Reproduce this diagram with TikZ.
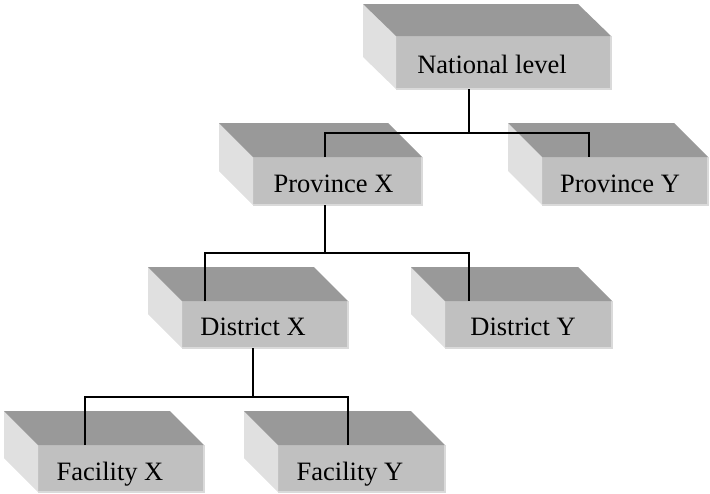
\documentclass[tikz,border=0pt]{standalone}
\usepackage{fontspec}
\setmainfont{Liberation Serif}
\usetikzlibrary{calc}

\definecolor{frontgray}{HTML}{C0C0C0}
\definecolor{topgray}{HTML}{999999}
\definecolor{sidegray}{HTML}{E0E0E0}
\definecolor{rimgray}{HTML}{DADADA}

\tikzset{
  front/.style={fill=frontgray, draw=none, inner sep=0pt, outer sep=0pt},
  topface/.style={fill=topgray},
  sideface/.style={fill=sidegray},
  rim/.style={draw=rimgray, line width=1.4pt},
  link/.style={draw=black, line width=1.6pt},
  lbl/.style={anchor=base, inner sep=0pt, font=\fontsize{26.5}{30}\selectfont},
}

% slab: name, centre x, centre y, width, height, depth x, depth y
\newcommand\slab[7]{%
  \node[front, minimum width=#4pt, minimum height=#5pt] (#1) at (#2,#3) {};
  \draw[rim] (#1.north east) -- (#1.south east) -- (#1.south west);
  \fill[sideface] (#1.north west) -- ++(-#6,-#7) -- ([shift={(-#6,-#7)}]#1.south west) -- (#1.south west) -- cycle;
  \fill[topface] (#1.north west) -- ++(-#6,-#7) -- ([shift={(-#6,-#7)}]#1.north east) -- (#1.north east) -- cycle;
}

\begin{document}
\begin{tikzpicture}[x=1pt, y=-1pt]
  \useasboundingbox (0,0) rectangle (710,493);

  % the seven levels of the hierarchy
  \slab{nat}{503.5}{62.5}{215}{53}{33}{32}
  \slab{provX}{337.5}{181}{169}{48}{34}{34}
  \slab{provY}{625}{181}{166}{48}{34}{34}
  \slab{distX}{265}{324.5}{166}{47}{34}{34}
  \slab{distY}{528.5}{324.5}{167}{47}{34}{34}
  \slab{facX}{121}{468.5}{166}{47}{34}{34}
  \slab{facY}{361.5}{468.5}{167}{47}{34}{34}

  % junction points of the tree connectors
  \coordinate (j1) at ($(nat.south)+(-34.5,44)$);
  \coordinate (j2) at ($(provX.south)+(-12.5,48)$);
  \coordinate (j3) at ($(distX.south)+(-12,49)$);

  % connectors
  \draw[link] ([xshift=-34.5pt]nat.south) -- (j1);
  \draw[link] ([xshift=-12.5pt]provX.north) |- (j1) -| ([xshift=-36pt]provY.north);
  \draw[link] ([xshift=-12.5pt]provX.south) -- (j2);
  \draw[link] ([xshift=-60pt]distX.north) |- (j2) -| ([xshift=-59.5pt]distY.north);
  \draw[link] ([xshift=-12pt]distX.south) -- (j3);
  \draw[link] ([xshift=-36pt]facX.north) |- (j3) -| ([xshift=-13.5pt]facY.north);

  % labels
  \node[lbl] (natT) at (492,73) {National level};
  \node[lbl] (provXT) at (333.5,192) {Province X};
  \node[lbl] (provYT) at (620,192) {Province Y};
  \node[lbl] (distXT) at (253,335) {District X};
  \node[lbl] (distYT) at (523,335) {District Y};
  \node[lbl] (facXT) at (110,480) {Facility X};
  \node[lbl] (facYT) at (350,480) {Facility Y};
\end{tikzpicture}
\end{document}
